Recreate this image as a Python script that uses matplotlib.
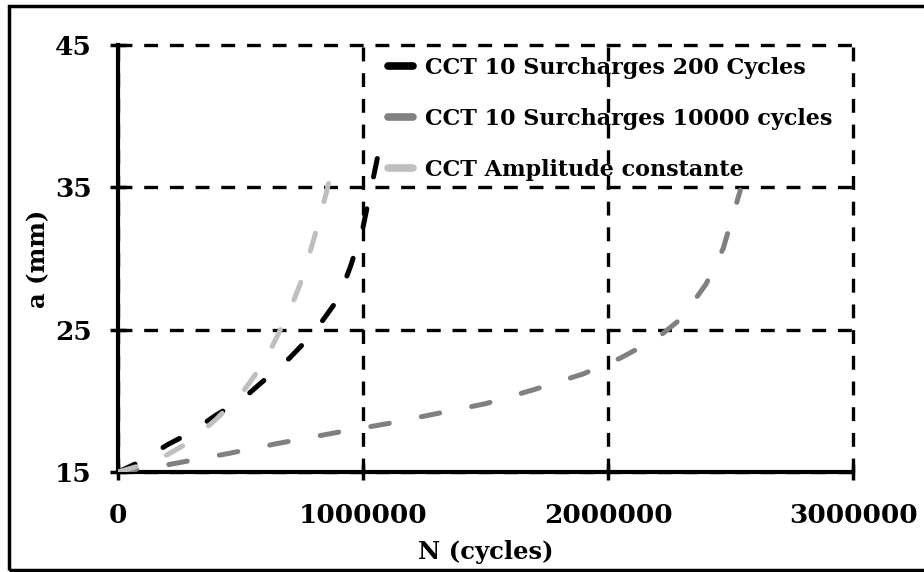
import matplotlib
matplotlib.use('Agg')
import matplotlib.pyplot as plt
from matplotlib.patches import Rectangle

plt.rcParams['font.family'] = ['DejaVu Serif']
plt.rcParams['font.weight'] = 'bold'
plt.rcParams['lines.scale_dashes'] = False

# CCT 10 Surcharges 200 Cycles
n_200 = [0, 100000, 200000, 300000, 400000, 500000, 600000, 700000, 800000,
         900000, 950000, 1000000, 1040000, 1082000]
a_200 = [15, 15.8, 16.9, 17.8, 19.0, 20.0, 21.5, 23.0, 24.8,
         27.2, 29.5, 32.2, 35.5, 39.0]

# CCT 10 Surcharges 10000 cycles
n_10000 = [0, 200000, 450000, 650000, 900000, 1100000, 1300000, 1500000,
           1700000, 1900000, 2050000, 2200000, 2300000, 2400000, 2470000, 2540000]
a_10000 = [15, 15.5, 16.3, 17.0, 17.8, 18.4, 19.1, 19.8,
           20.8, 21.9, 23.0, 24.4, 25.8, 28.2, 30.7, 34.8]

# CCT Amplitude constante
n_ca = [0, 100000, 200000, 300000, 400000, 500000, 600000, 700000, 750000,
        800000, 850000, 875000]
a_ca = [15, 15.5, 16.2, 17.2, 18.7, 20.4, 22.8, 26.3, 28.5, 31.4, 34.6, 36.4]

labels = ['CCT 10 Surcharges 200 Cycles', 'CCT 10 Surcharges 10000 cycles',
          'CCT Amplitude constante']
colors = ['#000000', '#808080', '#bfbfbf']
x_ticks = [0, 1000000, 2000000, 3000000]
y_ticks = [15, 25, 35, 45]

fig = plt.figure(figsize=(9.24, 5.72), dpi=100)
ax = fig.add_axes([0.1277, 0.1748, 0.7955, 0.7465])

for n, a, lab, c in zip([n_200, n_10000, n_ca], [a_200, a_10000, a_ca], labels, colors):
    ax.plot(n, a, color=c, lw=3.6, dashes=(13.5, 23.5), dash_capstyle='round',
            solid_capstyle='round', label=lab, zorder=3)

ax.set_xlim(0, 3000000)
ax.set_ylim(15, 45)
ax.set_xticks(x_ticks)
ax.set_xticklabels([str(v) for v in x_ticks])
ax.set_yticks(y_ticks)

ax.grid(True, color='black', lw=2.4, dashes=(10, 8.5), zorder=1)
for gl in ax.get_xgridlines() + ax.get_ygridlines():
    gl.set_clip_on(False)
for s in ['top', 'right']:
    ax.spines[s].set_visible(False)
for s in ['left', 'bottom']:
    ax.spines[s].set_linewidth(3)
    ax.spines[s].set_zorder(2)

ax.tick_params(axis='both', direction='inout', length=12, width=2.5, labelsize=19)
ax.tick_params(axis='y', pad=13)
ax.tick_params(axis='x', pad=16)

ax.set_xlabel('N (cycles)', fontsize=17.5, fontweight='bold', labelpad=9)
ax.set_ylabel('a (mm)', fontsize=17.5, fontweight='bold', labelpad=3)

leg = ax.legend(loc='upper left', bbox_to_anchor=(0.3505, 1.0), frameon=False,
                fontsize=16, handlelength=1.15, handletextpad=0.5,
                labelspacing=1.3, borderpad=0.05)
for h in leg.get_lines():
    h.set_linestyle('-')
    h.set_linewidth(5.5)
    h.set_solid_capstyle('round')

fig.patches.append(Rectangle((0.0098, 0.0035), 1.2, 0.9855, transform=fig.transFigure,
                             fill=False, lw=2.5, edgecolor='black', clip_on=False))

fig.savefig('out.png', dpi=100)
